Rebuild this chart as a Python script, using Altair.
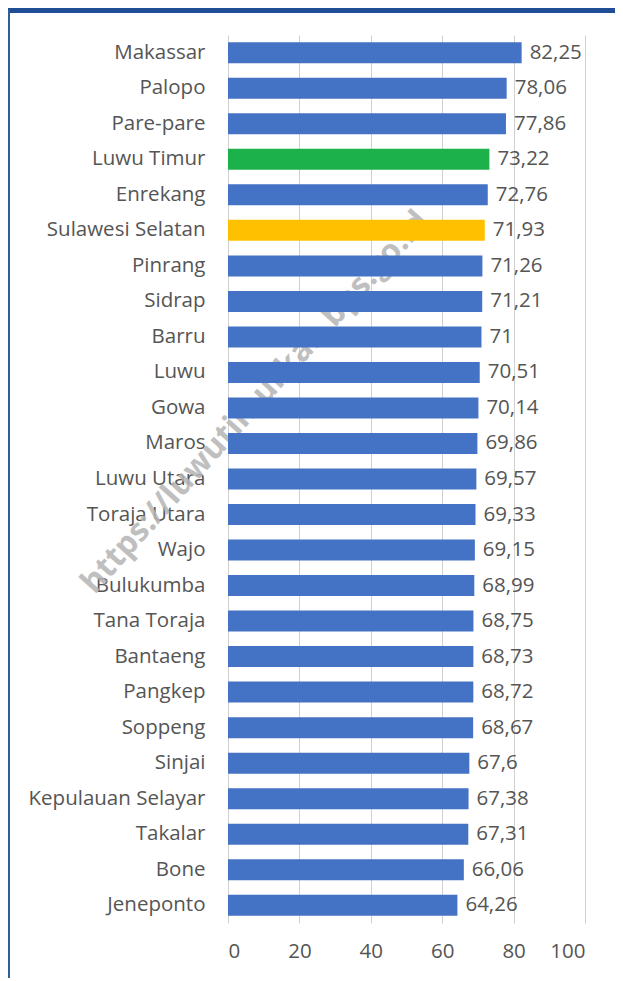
import altair as alt
import pandas as pd

regions = ["Makassar", "Palopo", "Pare-pare", "Luwu Timur", "Enrekang",
           "Sulawesi Selatan", "Pinrang", "Sidrap", "Barru", "Luwu", "Gowa",
           "Maros", "Luwu Utara", "Toraja Utara", "Wajo", "Bulukumba",
           "Tana Toraja", "Bantaeng", "Pangkep", "Soppeng", "Sinjai",
           "Kepulauan Selayar", "Takalar", "Bone", "Jeneponto"]
values = [82.25, 78.06, 77.86, 73.22, 72.76, 71.93, 71.26, 71.21, 71.0, 70.51,
          70.14, 69.86, 69.57, 69.33, 69.15, 68.99, 68.75, 68.73, 68.72, 68.67,
          67.6, 67.38, 67.31, 66.06, 64.26]
colors = ["#4472C4"] * 3 + ["#1DB14B", "#4472C4", "#FFC000"] + ["#4472C4"] * 19
x_ticks = [0, 20, 40, 60, 80, 100]
watermark = "https://luwutimurkab.bps.go.id"

df = pd.DataFrame({
    "region": regions,
    "value": values,
    "color": colors,
    "label": [f"{v:g}".replace(".", ",") for v in values],
})

FONT = "Open Sans"
GRAY = "#555555"
FS = 20.5

base = alt.Chart(df)

y = alt.Y("region:N", sort=regions, title=None,
          scale=alt.Scale(paddingInner=0.42, paddingOuter=0.21),
          axis=alt.Axis(ticks=False, domain=False, labelFont=FONT, labelFontSize=FS,
                        labelColor=GRAY, labelPadding=23))
x = alt.X("value:Q", title=None,
          scale=alt.Scale(domain=[0, 100], nice=False),
          axis=alt.Axis(values=x_ticks, ticks=False, domain=False, grid=True,
                        gridColor="#d0d0d0", gridWidth=1, labelFont=FONT,
                        labelFontSize=FS, labelColor=GRAY, labelPadding=18))

bars = base.mark_bar(size=21).encode(
    x=x, y=y, color=alt.Color("color:N", scale=None)
)

labels = base.mark_text(align="left", baseline="middle", dx=8, font=FONT,
                        fontSize=FS, color=GRAY).encode(
    x="value:Q", y=alt.Y("region:N", sort=regions), text="label:N"
)

wm = alt.Chart(pd.DataFrame({"t": [watermark]})).mark_text(
    angle=312, font=FONT, fontSize=32, fontWeight="bold", color="#b5b5b5",
    opacity=0.85, align="center", baseline="middle"
).encode(x=alt.value(27), y=alt.value(367), text="t:N")

top_bar = alt.Chart(pd.DataFrame({"a": [0]})).mark_rule(
    color="#1F4E96", strokeWidth=6
).encode(x=alt.value(-220), x2=alt.value(390), y=alt.value(-25))

left_line = alt.Chart(pd.DataFrame({"a": [0]})).mark_rule(
    color="#2E5E9E", strokeWidth=2
).encode(x=alt.value(-219), y=alt.value(-25), y2=alt.value(945))

chart = alt.layer(wm, bars, labels, top_bar, left_line).properties(
    width=357, height=888,
    padding={"left": 220, "top": 27, "right": 30, "bottom": 55},
    autosize=alt.AutoSizeParams(type="none"),
    background="white",
).configure_view(stroke=None)

chart.save("out.html", embed_options={"renderer": "svg", "actions": False})
